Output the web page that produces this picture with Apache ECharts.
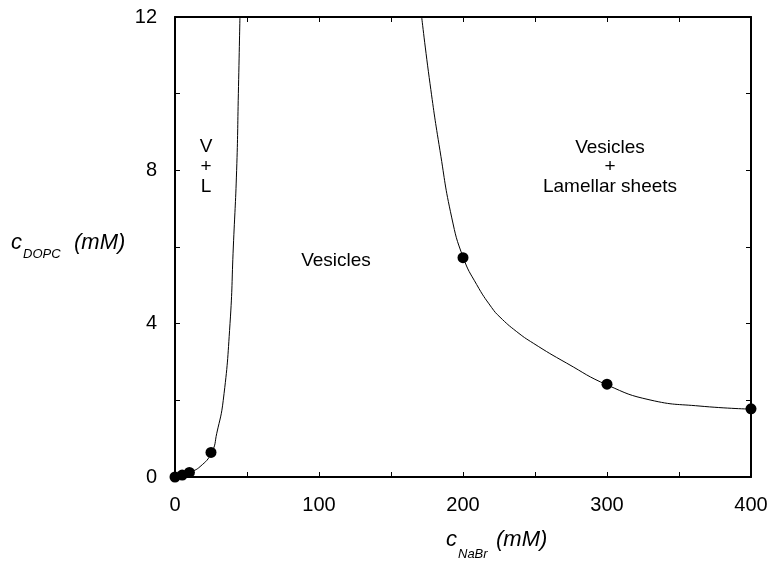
<!DOCTYPE html>
<html>
<head>
<meta charset="utf-8">
<script src="https://cdn.jsdelivr.net/npm/echarts@6/dist/echarts.min.js"></script>
<style>html,body{margin:0;padding:0;background:#fff;}#c{width:776px;height:563px;}</style>
</head>
<body>
<div id="c"></div>
<script>
// Boundary curve: V+L / Vesicles (x = c_NaBr mM, y = c_DOPC mM)
var leftCurveX = [0, 4.6, 10, 17.4, 25.5, 29, 33.5, 38.2, 40.5, 42.8, 44, 45.1];
var leftCurveY = [0.02, 0.05, 0.12, 0.27, 0.64, 1.14, 2.0, 4.0, 6.0, 8.0, 10.0, 12.0];
// Boundary curve: Vesicles / Vesicles + Lamellar sheets
var rightCurveX = [171.3, 177.1, 184, 192.1, 200.2, 209.5, 219.9, 225.7, 237, 248.8, 272, 300.2, 329.9, 364.6, 400];
var rightCurveY = [12.0, 10.26, 8.52, 6.78, 5.72, 5.02, 4.42, 4.17, 3.80, 3.49, 2.97, 2.40, 2.01, 1.85, 1.77];
// Measured points
var pointsX = [0, 5, 10, 25, 200, 300, 400];
var pointsY = [0, 0.05, 0.12, 0.64, 5.72, 2.42, 1.78];
// Axis ticks
var xTicks = [0, 100, 200, 300, 400];
var yTicks = [0, 4, 8, 12];

function zip(a, b) { return a.map(function (v, i) { return [v, b[i]]; }); }

var FONT = 'Liberation Sans, Arial, sans-serif';
var chart = echarts.init(document.getElementById('c'));
function axisBase(extra) {
  return Object.assign({
    type: 'value',
    axisLine: { show: true, onZero: false, lineStyle: { color: '#000', width: 2 } },
    axisTick: { show: true, inside: true, length: 5, lineStyle: { color: '#000', width: 1 } },
    splitLine: { show: false }
  }, extra);
}
chart.setOption({
  backgroundColor: '#fff',
  animation: false,
  grid: { left: 175, right: 25, top: 17, bottom: 86, containLabel: false },
  xAxis: [
    axisBase({
      position: 'bottom', min: 0, max: 400, interval: 50,
      axisLabel: { margin: 18, fontSize: 20, color: '#000', fontFamily: FONT,
        formatter: function (v) { return xTicks.indexOf(v) >= 0 ? String(v) : ''; } }
    }),
    axisBase({ position: 'top', min: 0, max: 400, interval: 50, axisLabel: { show: false } })
  ],
  yAxis: [
    axisBase({
      position: 'left', min: 0, max: 12, interval: 2,
      axisLabel: { margin: 18, fontSize: 20, color: '#000', fontFamily: FONT,
        formatter: function (v) { return yTicks.indexOf(v) >= 0 ? String(v) : ''; } }
    }),
    axisBase({ position: 'right', min: 0, max: 12, interval: 2, axisLabel: { show: false } })
  ],
  series: [
    { type: 'line', data: zip(leftCurveX, leftCurveY), smooth: 0.5,
      showSymbol: false, lineStyle: { color: '#000', width: 1 } },
    { type: 'line', data: zip(rightCurveX, rightCurveY), smooth: 0.5,
      showSymbol: false, lineStyle: { color: '#000', width: 1 } },
    { type: 'scatter', data: zip(pointsX, pointsY), symbolSize: 11, clip: false,
      itemStyle: { color: '#000', opacity: 1 }, z: 5 }
  ],
  graphic: [
    { type: 'text', x: 206, y: 167, style: { text: 'V\n+\nL', font: '19px ' + FONT, fill: '#000',
      textAlign: 'center', textVerticalAlign: 'middle', lineHeight: 20 } },
    { type: 'text', x: 336, y: 261, style: { text: 'Vesicles', font: '19px ' + FONT, fill: '#000',
      textAlign: 'center', textVerticalAlign: 'middle' } },
    { type: 'text', x: 610, y: 167, style: { text: 'Vesicles\n+\nLamellar sheets', font: '19px ' + FONT, fill: '#000',
      textAlign: 'center', textVerticalAlign: 'middle', lineHeight: 19.5 } },
    // y-axis name
    { type: 'text', x: 11, y: 254, style: { text: 'c', font: 'italic 22px ' + FONT, fill: '#000', textVerticalAlign: 'bottom' } },
    { type: 'text', x: 23, y: 261, style: { text: 'DOPC', font: 'italic 13px ' + FONT, fill: '#000', textVerticalAlign: 'bottom' } },
    { type: 'text', x: 74, y: 254, style: { text: '(mM)', font: 'italic 22px ' + FONT, fill: '#000', textVerticalAlign: 'bottom' } },
    // x-axis name
    { type: 'text', x: 446, y: 551, style: { text: 'c', font: 'italic 22px ' + FONT, fill: '#000', textVerticalAlign: 'bottom' } },
    { type: 'text', x: 458, y: 561, style: { text: 'NaBr', font: 'italic 13px ' + FONT, fill: '#000', textVerticalAlign: 'bottom' } },
    { type: 'text', x: 496, y: 551, style: { text: '(mM)', font: 'italic 22px ' + FONT, fill: '#000', textVerticalAlign: 'bottom' } }
  ]
});
</script>
</body>
</html>
